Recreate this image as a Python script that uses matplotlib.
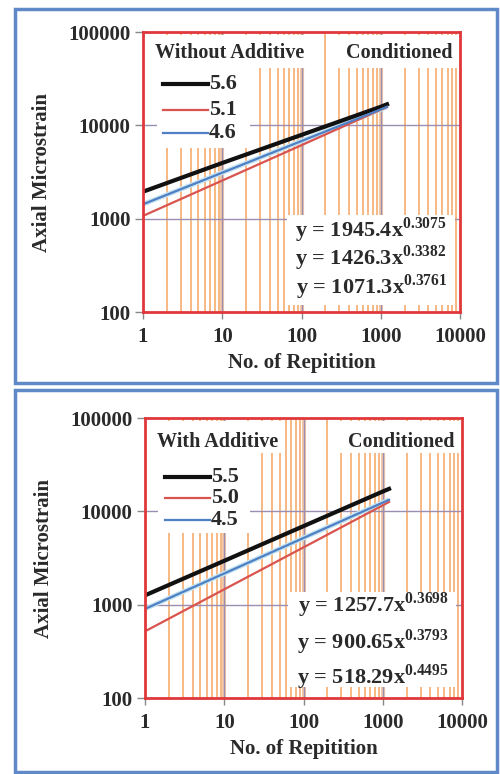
import matplotlib
matplotlib.use("Agg")
import matplotlib.pyplot as plt
from matplotlib.patches import Rectangle
from matplotlib.lines import Line2D
from matplotlib.ticker import LogLocator, NullFormatter, FixedLocator

plt.rcParams['font.family'] = ['Liberation Serif', 'DejaVu Serif']
plt.rcParams['font.weight'] = 'bold'
plt.rcParams['mathtext.fontset'] = 'custom'
plt.rcParams['mathtext.rm'] = 'Liberation Serif'
plt.rcParams['mathtext.bf'] = 'Liberation Serif:bold'

# ---- data ----
x_pts = [1, 10, 100, 1000, 1200]

top_title = "Without Additive"
top_labels = ["5.6", "5.1", "4.6"]
top_y_56 = [1945, 3950, 7900, 15800, 16800]
top_y_51 = [1071, 2560, 6130, 14700, 15700]
top_y_46 = [1426, 3110, 6790, 14800, 15800]
top_eqs = ["y = 1945.4x$^{\\mathrm{0.3075}}$", "y = 1426.3x$^{\\mathrm{0.3382}}$",
           "y = 1071.3x$^{\\mathrm{0.3761}}$"]

bot_title = "With Additive"
bot_labels = ["5.5", "5.0", "4.5"]
bot_y_55 = [1258, 2950, 6940, 16300, 17400]
bot_y_50 = [518, 1460, 4110, 11600, 12600]
bot_y_45 = [901, 2160, 5180, 12400, 13300]
bot_eqs = ["y = 1257.7x$^{\\mathrm{0.3698}}$", "y = 900.65x$^{\\mathrm{0.3793}}$",
           "y = 518.29x$^{\\mathrm{0.4495}}$"]

x_ticks = [1, 10, 100, 1000, 10000]
y_ticks = [100, 1000, 10000, 100000]

colors = ["#111111", "#d9534f", "#4f7fc4"]
widths = [3.0, 1.6, 1.6]

W, H = 500, 774
fig = plt.figure(figsize=(W / 100, H / 100), dpi=100)

# blue outer frames
for (x0, y0, x1, y1) in [(15, 9, 497, 383), (15, 390, 497, 772)]:
    fig.patches.append(Rectangle((x0 / W, 1 - y1 / H), (x1 - x0) / W, (y1 - y0) / H,
                                 transform=fig.transFigure, fill=False,
                                 edgecolor="#6089c8", linewidth=2.5))


def panel(rect, title, labels, series, eqs, boxes, title_y, leg_ys, eq_ys):
    ax = fig.add_axes(rect)
    ax.set_xscale('log')
    ax.set_yscale('log')
    ax.set_xlim(1, 10000)
    ax.set_ylim(100, 100000)
    minors = [m * 10 ** d for d in range(4) for m in range(2, 10)]
    for v in minors:
        ax.axvline(v, color="#f7b27a", lw=1.3, zorder=1)
    for v in [10, 100, 1000]:
        ax.axvline(v, color="#f3c9a8", lw=3.0, zorder=1)
        ax.axvline(v, color="#9a8fb0", lw=1.0, zorder=1)
    for v in [1000, 10000]:
        ax.axhline(v, color="#9a8fb0", lw=1.0, zorder=1)
    for (bx0, by0, bx1, by1) in boxes:
        ax.add_patch(Rectangle((bx0, by0), bx1 - bx0, by1 - by0, transform=ax.transAxes,
                               facecolor="white", edgecolor="none", zorder=2))
    handles = []
    for ys, c, lw, lab in zip(series, colors, widths, labels):
        if c == colors[2]:
            ax.plot(x_pts, ys, color="#c4e4f0", lw=3.5, zorder=3, solid_capstyle='butt')
        h, = ax.plot(x_pts, ys, color=c, lw=lw, zorder=4, label=lab)
        handles.append(h)
    for s in ax.spines.values():
        s.set_color("#e0383a")
        s.set_linewidth(2.0)
        s.set_zorder(6)
    ax.xaxis.set_major_locator(FixedLocator(x_ticks))
    ax.yaxis.set_major_locator(FixedLocator(y_ticks))
    ax.set_xticklabels([str(v) for v in x_ticks])
    ax.set_yticklabels([str(v) for v in y_ticks])
    ax.xaxis.set_minor_locator(LogLocator(base=10, subs=[]))
    ax.yaxis.set_minor_locator(LogLocator(base=10, subs=[]))
    ax.xaxis.set_minor_formatter(NullFormatter())
    ax.yaxis.set_minor_formatter(NullFormatter())
    ax.tick_params(axis='x', which='major', direction='out', length=5, width=1,
                   color="#888888", labelsize=15, labelcolor="#2a2a2a", pad=6)
    ax.tick_params(axis='y', which='major', direction='out', length=6, width=1,
                   color="#888888", labelsize=15, labelcolor="#2a2a2a", pad=3)
    ax.set_xlabel("No. of Repitition", fontsize=15, fontweight='bold', color="#2a2a2a", labelpad=4)
    ax.set_ylabel("Axial Microstrain", fontsize=15, fontweight='bold', color="#2a2a2a", labelpad=12)
    ax.text(0.038, title_y, title, transform=ax.transAxes, fontsize=14.5, fontweight='bold',
            ha='left', va='center', color="#2a2a2a", zorder=7)
    ax.text(0.975, title_y, "Conditioned", transform=ax.transAxes, fontsize=14.5, fontweight='bold',
            ha='right', va='center', color="#2a2a2a", zorder=7)
    for yy, h in zip(leg_ys, handles):
        ax.add_line(Line2D([0.063, 0.205], [yy, yy], transform=ax.transAxes,
                           color=h.get_color(), lw=h.get_linewidth(), zorder=7))
        ax.text(0.207, yy, h.get_label(), transform=ax.transAxes, fontsize=16,
                fontweight='bold', ha='left', va='center', color="#2a2a2a", zorder=7)
    for yy, e in zip(eq_ys, eqs):
        ax.text(0.72, yy, e, transform=ax.transAxes, fontsize=16, fontweight='bold',
                ha='center', va='center', color="#2a2a2a", zorder=7)
    return ax


panel([143 / W, 1 - 312 / H, 317 / W, 280 / H], top_title, top_labels,
      [top_y_56, top_y_51, top_y_46], top_eqs,
      [(0.04, 0.871, 0.527, 0.99), (0.606, 0.871, 0.995, 0.99),
       (0.044, 0.586, 0.338, 0.871), (0.454, 0.025, 0.984, 0.346)],
      0.925, [0.814, 0.721, 0.639], [0.293, 0.193, 0.089])

panel([145 / W, 1 - 698 / H, 317 / W, 280 / H], bot_title, bot_labels,
      [bot_y_55, bot_y_50, bot_y_45], bot_eqs,
      [(0.04, 0.875, 0.44, 0.99), (0.59, 0.875, 0.995, 0.99),
       (0.04, 0.59, 0.33, 0.875), (0.45, 0.04, 0.98, 0.38)],
      0.914, [0.789, 0.714, 0.636], [0.332, 0.200, 0.075])

fig.savefig("out.png", dpi=100, facecolor="white")
